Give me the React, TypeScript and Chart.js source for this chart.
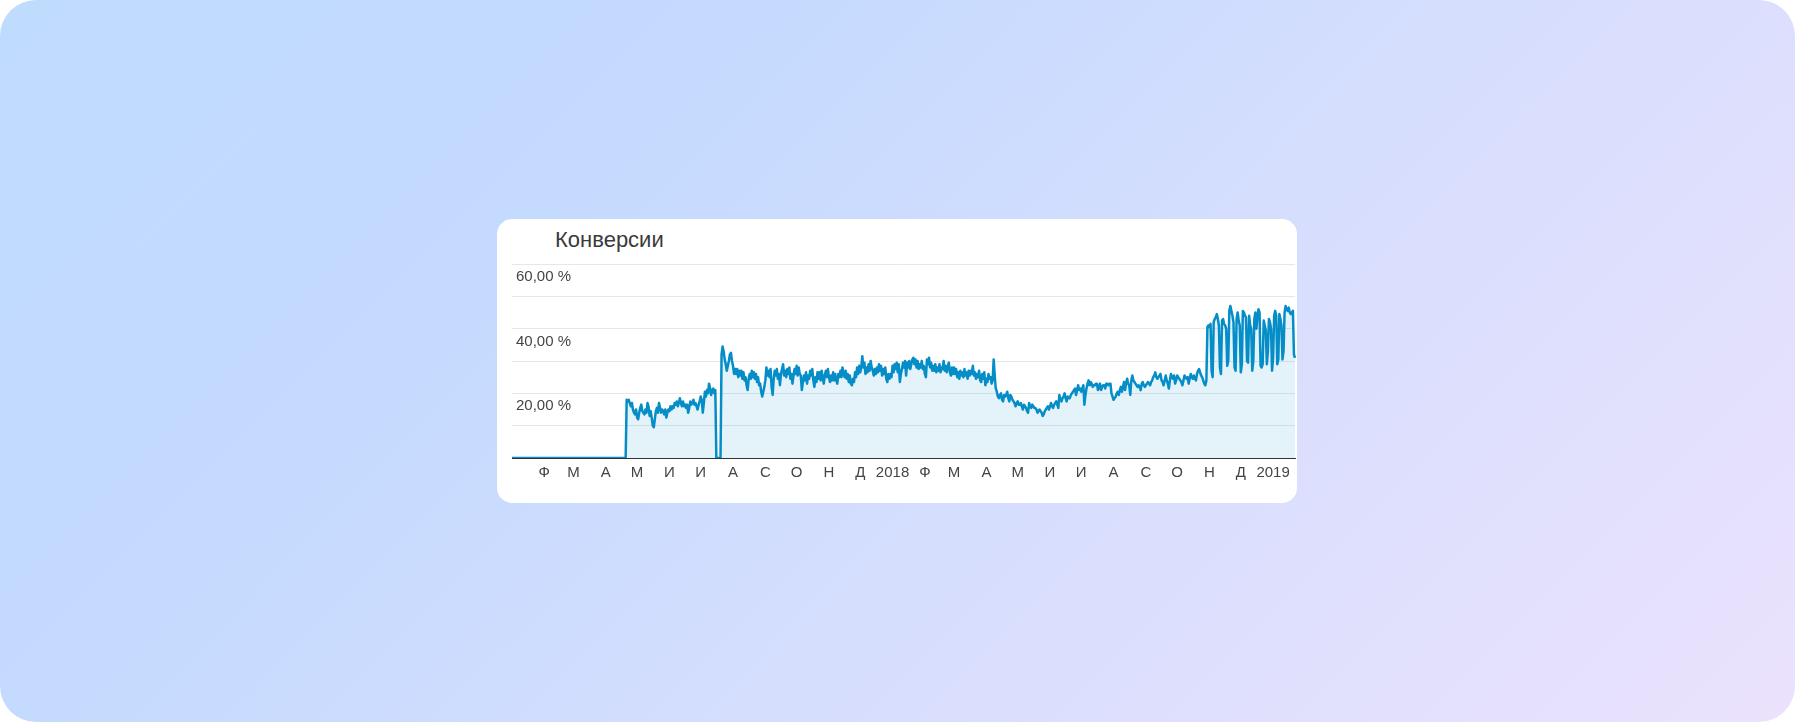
import React, { useEffect, useRef } from 'react';
import { Chart, registerables } from 'chart.js';

Chart.register(...registerables);

// Daily conversion rate (%), from 2017-01-01
const firstDay = { year: 2017, month: 0, day: 1 };

const conversion2017 = [
  0, 0, 0, 0, 0, 0, 0, 0, 0, 0,
  0, 0, 0, 0, 0, 0, 0, 0, 0, 0,
  0, 0, 0, 0, 0, 0, 0, 0, 0, 0,
  0, 0, 0, 0, 0, 0, 0, 0, 0, 0,
  0, 0, 0, 0, 0, 0, 0, 0, 0, 0,
  0, 0, 0, 0, 0, 0, 0, 0, 0, 0,
  0, 0, 0, 0, 0, 0, 0, 0, 0, 0,
  0, 0, 0, 0, 0, 0, 0, 0, 0, 0,
  0, 0, 0, 0, 0, 0, 0, 0, 0, 0,
  0, 0, 0, 0, 0, 0, 0, 0, 0, 0,
  0, 0, 0, 0, 0, 0, 0, 0, 0, 0,
  18, 17.5, 18, 17, 16, 17, 15, 14, 13.5, 15,
  12.5, 12, 14, 15.5, 16.5, 14.5, 14, 13.5, 15, 14,
  17, 16, 13, 14.5, 12.5, 10, 9.5, 12, 14.5, 15.5,
  14, 17, 15.5, 14, 15, 14.5, 13.5, 15, 12.5, 14,
  15, 14.5, 16, 15, 16, 15.5, 17, 16.5, 17.5, 16,
  17, 18.5, 17, 16, 17.5, 16, 16.5, 15.5, 16.5, 14,
  15.5, 17.5, 16.5, 17, 18, 16.5, 17, 16, 15, 16.5,
  17.5, 19, 18, 14, 17, 20.5, 19, 21, 20, 23,
  21.5, 19.5, 21, 21.5, 20, 21, 0, 0, 0, 0,
  0, 32, 34.5, 33, 30.5, 29, 27, 28.5, 30, 32,
  32.5, 30, 28.5, 26, 27.5, 26, 27.5, 25, 27, 25.5,
  27, 24.5, 26.5, 24, 25, 22.5, 21, 24.5, 26, 24.5,
  27, 25, 26.5, 24.5, 26, 23.5, 25, 22.5, 23, 20.5,
  19, 20.5, 22, 24, 28, 25.5, 27, 25, 27.5, 22,
  19.5, 24.5, 27, 25.5, 27.5, 24.5, 26, 22.5, 26, 27.5,
  29, 25.5, 27, 25, 27.5, 26, 28, 24.5, 26, 23,
  25.5, 27.5, 26, 28.5, 25.5, 28, 26, 25.5, 21, 23.5,
  25.5, 24, 26.5, 23, 25.5, 24.5, 27, 25.5, 27.5, 24,
  22, 25, 23.5, 26.5, 24.5, 26.5, 24, 27, 25, 23,
  25.5, 27, 25, 27.5, 25, 23.5, 25.5, 24, 26.5, 24,
  26, 24, 23, 26, 25, 27, 25, 28, 26, 25,
  27, 24.5, 26, 23.5, 25.5, 23, 22.5, 24.5, 23.5, 26.5,
  25, 28, 26, 28.5, 26.5, 28, 31.5, 28, 29.5, 26,
  28, 26.5, 29, 27, 30, 28, 27, 25.5, 27.5, 26,
  28, 26.5, 29, 27, 28.5, 25.5, 27.5, 26, 28, 24.5,
  23.5, 26, 24.5, 26, 25,
];

const conversion2018 = [
  28.5, 26.5, 29, 27.5, 29.5, 26.5, 29, 23.5, 26, 27.5,
  29.5, 28, 30, 25.5, 29.5, 28, 30, 27.5, 29, 30.5,
  31, 29, 30.5, 28, 30, 27.5, 29, 28, 30, 27.5,
  28.5, 26, 25, 30.5, 29, 31, 28, 29.5, 27, 28.5,
  27, 29, 26.5, 28, 27, 29, 26.5, 28, 27.5, 30,
  27, 28.5, 26.5, 28.5, 29.5, 26.5, 25.5, 28, 26, 28,
  26, 27.5, 25, 26.5, 24.5, 27, 25.5, 26.5, 25, 27.5,
  25.5, 26.5, 24.5, 27, 25.5, 27, 26, 28.5, 25.5, 26.5,
  24.5, 26, 25, 27, 24, 23.5, 26, 24.5, 26.5, 22.5,
  24.5, 23.5, 26, 24.5, 25, 23, 24, 30.5, 25.5, 21.5,
  20.5, 19, 18.5, 19.5, 20, 18, 17.5, 19.5, 19, 19.5,
  20.5, 18.5, 17.5, 19.5, 19, 18, 17.5, 17, 16, 17,
  17.5, 16.5, 16.5, 17, 16, 15, 16.5, 16, 15.5, 14.5,
  14, 17, 16, 15.5, 16.5, 16, 15.5, 15.5, 15, 14,
  14.5, 15, 14.5, 14, 13, 13.5, 14.5, 15, 15.5, 16,
  15, 16, 17, 16, 15.5, 16.5, 17, 17.5, 16.5, 15.5,
  19.5, 18, 17.5, 18.5, 19, 20, 18.5, 17.5, 19, 18.5,
  18.5, 19.5, 20, 20.5, 21, 21.5, 19.5, 21, 22.5, 21,
  21.5, 20.5, 21.5, 22.5, 16.5, 19.5, 21.5, 23, 24, 22.5,
  23.5, 23, 22, 22.5, 22.5, 23, 23, 21, 22, 23,
  21, 22, 22.5, 22.5, 21.5, 23, 23, 22.5, 23, 23,
  20, 19, 18, 18.5, 19, 20, 20.5, 19.5, 21, 22,
  20.5, 22, 23.5, 21, 23, 24.5, 23, 22.5, 19.5, 24,
  25.5, 24, 23.5, 23, 22.5, 22, 22.5, 22, 21, 23,
  23.5, 22.5, 22, 22.5, 23, 23.5, 23, 22.5, 23.5, 24,
  25, 25.5, 26.5, 25, 24.5, 25, 25.5, 26, 24, 23.5,
  22.5, 24, 25.5, 24, 23, 21.5, 24, 26, 25, 24.5,
  25.5, 23, 24, 25.5, 25, 24.5, 24, 23.5, 22.5, 24,
  25.5, 25, 24.5, 25, 23, 24.5, 26, 25, 24.5, 25.5,
  24.5, 24, 26, 27, 27.5, 26.5, 25.5, 25, 24, 23,
  22.5, 24, 40.5, 41, 40.5, 41.5, 27, 25, 42, 43,
  43.5, 44.5, 43, 41, 28, 26, 42.5, 43, 41.5, 41,
  40, 28.5, 30, 45.5, 47, 45.5, 44, 42, 28, 27,
  43, 45, 42.5, 41, 26.5, 29, 45.5, 45, 44, 43.5,
  30, 29.5, 44, 41, 40, 27, 30, 43, 45, 40,
  44, 46, 45, 28.5, 28, 29, 42.5, 41, 39.5, 29,
  33, 43, 42, 40, 27,
];

const conversion2019 = [
  31, 44, 45.5, 44, 29, 30.5, 44.5, 43, 41, 30.5,
  33, 45, 47, 46, 45.5, 46.5, 45, 44.5, 45, 45.5,
  32, 31,
];

// Labels shown at the start of each month (Feb 2017 .. Jan 2019)
const monthTickLabels = [
  'Ф', 'М', 'А', 'М', 'И', 'И', 'А', 'С', 'О', 'Н', 'Д', '2018',
  'Ф', 'М', 'А', 'М', 'И', 'И', 'А', 'С', 'О', 'Н', 'Д', '2019',
];

const yLabeledValues = [20, 40, 60];
const yMax = 60;
const yStep = 10;

const chartTitle = 'Конверсии';

const FONT = '"Liberation Sans", Arial, Helvetica, sans-serif';

export default function App() {
  const canvasRef = useRef<HTMLCanvasElement | null>(null);

  useEffect(() => {
    const values = [...conversion2017, ...conversion2018, ...conversion2019];
    const categories: string[] = [];
    const tickMap = new Map<number, string>();
    let m = 0;
    for (let i = 0; i < values.length; i++) {
      const d = new Date(Date.UTC(firstDay.year, firstDay.month, firstDay.day + i));
      categories.push(d.toISOString().slice(0, 10));
      if (i > 0 && d.getUTCDate() === 1 && m < monthTickLabels.length) {
        tickMap.set(i, monthTickLabels[m]);
        m++;
      }
    }

    const chart = new Chart(canvasRef.current!, {
      type: 'line',
      data: {
        labels: categories,
        datasets: [
          {
            data: values,
            borderColor: '#058DC7',
            backgroundColor: 'rgba(5,141,199,0.11)',
            fill: 'origin',
            borderWidth: 2.5,
            pointRadius: 0,
            pointHoverRadius: 0,
            tension: 0,
            borderJoinStyle: 'round',
          },
        ],
      },
      options: {
        animation: false,
        responsive: false,
        maintainAspectRatio: false,
        events: [],
        layout: { padding: { left: 7, right: 2, top: 45, bottom: 15 } },
        plugins: {
          legend: { display: false },
          tooltip: { enabled: false },
          title: { display: false },
        },
        scales: {
          x: {
            type: 'category',
            grid: { display: false, drawTicks: false },
            border: { display: true, color: '#333333', width: 1 },
            ticks: {
              autoSkip: false,
              maxRotation: 0,
              minRotation: 0,
              padding: 6,
              color: '#444444',
              font: { family: FONT, size: 15 },
              callback: (value: any) => (tickMap.has(value) ? tickMap.get(value) : null),
            },
          },
          y: {
            min: 0,
            max: yMax,
            grid: { color: '#e7e7e7', drawTicks: false, lineWidth: 1 },
            border: { display: false },
            ticks: {
              stepSize: yStep,
              mirror: true,
              padding: 4,
              labelOffset: 13,
              color: '#444444',
              font: { family: FONT, size: 15 },
              callback: (value: any) =>
                yLabeledValues.includes(Number(value)) ? `${value},00 %` : '',
            },
          },
        },
      },
    });
    return () => chart.destroy();
  }, []);

  return (
    <div
      style={{
        position: 'fixed',
        left: 0,
        top: 0,
        width: 1795,
        height: 722,
        borderRadius: 36,
        background: 'linear-gradient(135deg, #BFDBFE 0%, #C4DAFE 30%, #D6DEFD 60%, #EBE2FD 100%)',
        overflow: 'hidden',
      }}
    >
      <div
        style={{
          position: 'absolute',
          left: 497,
          top: 219,
          width: 800,
          height: 284,
          borderRadius: 15,
          background: '#ffffff',
          overflow: 'hidden',
        }}
      >
        <div
          style={{
            position: 'absolute',
            left: 58,
            top: 10,
            fontFamily: FONT,
            fontSize: 22,
            lineHeight: '22px',
            color: '#3a3a3a',
            whiteSpace: 'nowrap',
          }}
        >
          {chartTitle}
        </div>
        <canvas
          ref={canvasRef}
          width={800}
          height={284}
          style={{ position: 'absolute', left: 0, top: 0, width: 800, height: 284 }}
        />
      </div>
    </div>
  );
}
